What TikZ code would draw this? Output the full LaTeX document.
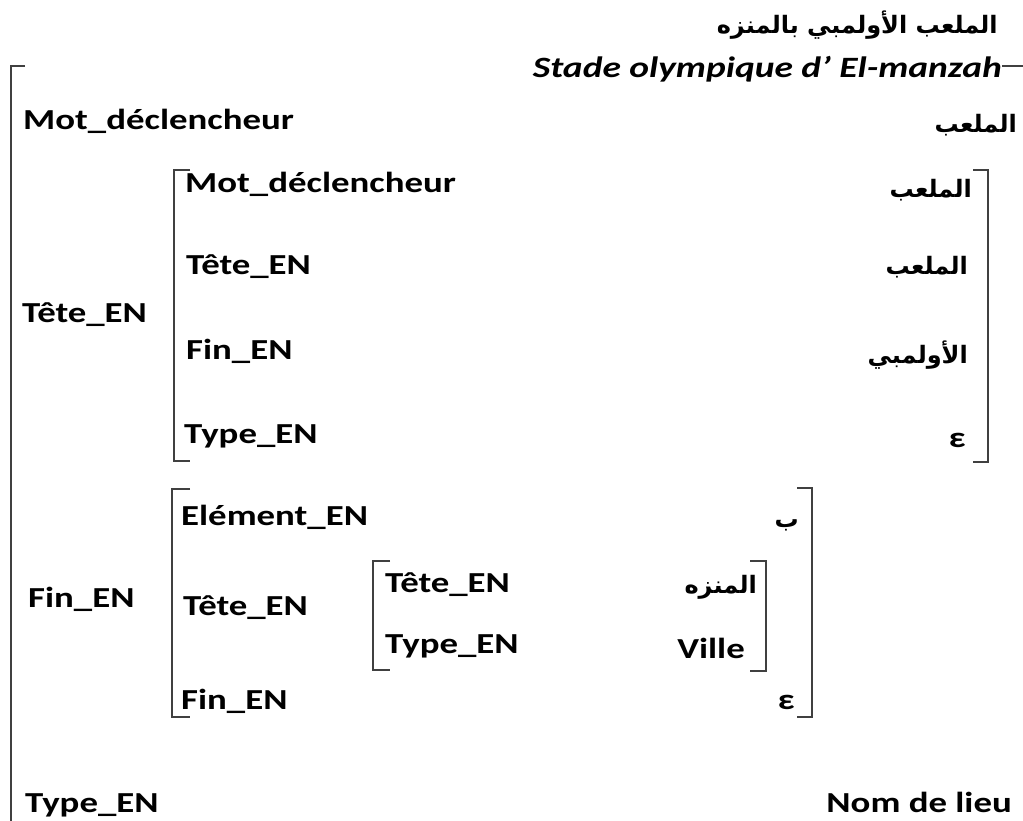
\documentclass[tikz,border=0pt]{standalone}
\usepackage{fontspec}
\setmainfont{Carlito}[FakeStretch=1.27]
\newfontfamily\arabicfont[Script=Arabic]{DejaVu Sans}
\TeXXeTstate=1
\begin{document}
\begin{tikzpicture}[x=1pt,y=-1pt,
  lab/.style={font=\fontsize{29}{30}\selectfont\bfseries, inner sep=0pt, anchor=base west},
  labr/.style={lab, anchor=base east},
  ar/.style={font=\arabicfont\fontsize{24}{26}\selectfont\bfseries, inner sep=0pt, anchor=base east},
  brk/.style={line width=1.8pt, draw=black!75}]
\useasboundingbox (0,0) rectangle (1023,821);

% title
\node[ar] (title) at (998,34) {\beginR الملعب الأولمبي بالمنزه\endR};
\node[labr, font=\fontsize{29.5}{30}\selectfont\bfseries\itshape] (fr) at (1002,78) {Stade olympique d’ El-manzah};

% outer bracket
\draw[brk] (1002,66) -- (1023,66);
\draw[brk] (25,66) -- (11,66) -- (11,830);

% outer rows
\node[lab] (mot) at (23,130) {Mot\_déclencheur};
\node[ar] (motv) at (1017,133) {\beginR الملعب\endR};
\node[lab] (tete) at (22,322) {Tête\_EN};
\node[lab] (fin) at (28,607) {Fin\_EN};
\node[lab] (type) at (25,812) {Type\_EN};
\node[labr] (typev) at (1012,812) {Nom de lieu};

% bracket 1 (Tête_EN)
\draw[brk] (190,170) -- (174,170) -- (174,461) -- (190,461);
\draw[brk] (973,170) -- (988,170) -- (988,462) -- (973,462);
\node[lab] (t1) at (185,193) {Mot\_déclencheur};
\node[ar] (t1v) at (972,198) {\beginR الملعب\endR};
\node[lab] (t2) at (186,275) {Tête\_EN};
\node[ar] (t2v) at (968,275) {\beginR الملعب\endR};
\node[lab] (t3) at (186,359) {Fin\_EN};
\node[ar] (t3v) at (968,363) {\beginR الأولمبي\endR};
\node[lab] (t4) at (184,443) {Type\_EN};
\node[labr] (t4v) at (966,447) {ε};

% bracket 2 (Fin_EN)
\draw[brk] (190,489) -- (172,489) -- (172,717) -- (190,717);
\draw[brk] (797,488) -- (812,488) -- (812,717) -- (797,717);
\node[lab] (f1) at (181,525) {Elément\_EN};
\node[ar] (f1v) at (799,527) {\beginR ب\endR};
\node[lab] (f2) at (183,615) {Tête\_EN};
\node[lab] (f3) at (181,709) {Fin\_EN};
\node[labr] (f3v) at (795,709) {ε};

% bracket 3
\draw[brk] (390,561) -- (373,561) -- (373,670) -- (390,670);
\draw[brk] (750,561) -- (766,561) -- (766,671) -- (750,671);
\node[lab] (g1) at (385,592) {Tête\_EN};
\node[ar] (g1v) at (757,593) {\beginR المنزه\endR};
\node[lab] (g2) at (385,653) {Type\_EN};
\node[labr] (g2v) at (745,658) {Ville};
\end{tikzpicture}
\end{document}
